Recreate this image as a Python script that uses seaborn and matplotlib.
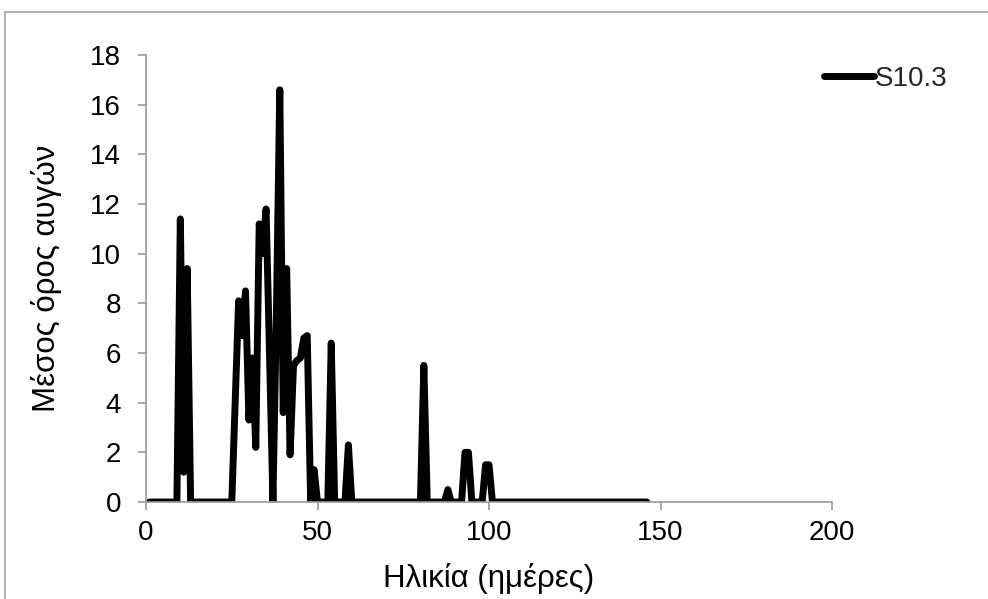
import numpy as np
import pandas as pd
import seaborn as sns
import matplotlib
matplotlib.use("Agg")
import matplotlib.pyplot as plt
from matplotlib.patches import Rectangle

# Mean number of eggs per day of age, line S10.3
days = list(range(1, 147))
nonzero_eggs = {
    10: 11.4, 11: 1.2, 12: 9.4,
    26: 4.0, 27: 8.1, 28: 6.7, 29: 8.5, 30: 3.3, 31: 5.8, 32: 2.2,
    33: 11.2, 34: 10.0, 35: 11.8, 36: 6.0, 38: 7.5, 39: 16.6,
    40: 3.6, 41: 9.4, 42: 1.9, 43: 5.5, 44: 5.7, 45: 5.8, 46: 6.6, 47: 6.7,
    49: 1.3, 54: 6.4, 59: 2.3, 81: 5.5, 88: 0.5,
    93: 2.0, 94: 2.0, 99: 1.5, 100: 1.5,
}
eggs = [nonzero_eggs.get(d, 0.0) for d in days]
series_name = "S10.3"

x_ticks = [0, 50, 100, 150, 200]
y_ticks = list(range(0, 19, 2))
x_label = "Ηλικία (ημέρες)"
y_label = "Μέσος όρος αυγών"

df = pd.DataFrame({"day": days, "eggs": eggs, "series": series_name})

sns.set_theme(style="white")
plt.rcParams["font.family"] = ["Liberation Sans", "DejaVu Sans"]

fig = plt.figure(figsize=(9.88, 5.99), dpi=100)
ax = fig.add_axes([0.1478, 0.1619, 0.8421 - 0.1478, 0.9082 - 0.1619])

lw = 5.0
sns.lineplot(data=df, x="day", y="eggs", hue="series", palette=["black"],
             linewidth=lw, ax=ax, legend=True)
for ln in ax.get_lines():
    ln.set_solid_joinstyle("round")
    ln.set_solid_capstyle("round")

ax.set_xlim(0, 200)
ax.set_ylim(0, 18)
ax.set_xticks(x_ticks)
ax.set_yticks(y_ticks)
ax.set_xlabel(x_label, fontsize=22.5, color="black", labelpad=12)
ax.set_ylabel(y_label, fontsize=22.5, color="black", labelpad=20)

grey = "#999999"
for side in ("top", "right"):
    ax.spines[side].set_visible(False)
for side in ("left", "bottom"):
    ax.spines[side].set_color(grey)
    ax.spines[side].set_linewidth(1.2)
ax.tick_params(axis="both", which="major", direction="out", length=6,
               width=1.2, color=grey, labelsize=20, labelcolor="black",
               left=True, bottom=True)
ax.tick_params(axis="y", pad=12)
ax.tick_params(axis="x", pad=7)

leg = ax.legend(loc="upper left", bbox_to_anchor=(0.988, 0.975), frameon=False,
                fontsize=20, handlelength=1.8, handletextpad=0.05,
                borderaxespad=0.0, borderpad=0.0)
for h in leg.get_lines():
    h.set_linewidth(lw)
    h.set_solid_capstyle("round")

# outer chart frame
fig.patches.append(Rectangle((5 / 988, -0.05), 1.2, 1 - 12 / 599 + 0.05,
                             transform=fig.transFigure, fill=False,
                             edgecolor="#b3b3b3", linewidth=1.5))

fig.savefig("out.png", dpi=100)
